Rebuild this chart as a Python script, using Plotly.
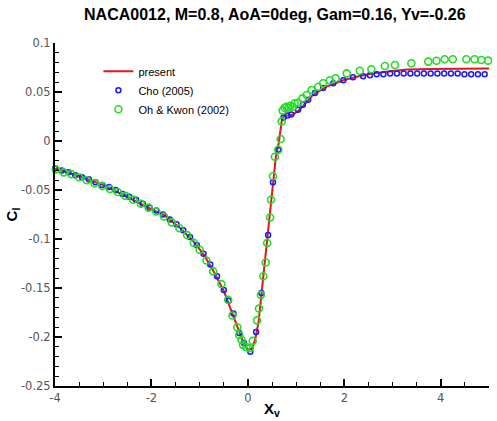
import plotly.graph_objects as go

# ---- data ----
present_x = [-4.0, -3.5, -3.0, -2.5, -2.0, -1.7, -1.4, -1.1, -0.9, -0.7, -0.5, -0.35, -0.2, -0.1,
             0.0, 0.08, 0.15, 0.22, 0.28, 0.34, 0.40, 0.46, 0.52, 0.58, 0.64, 0.70, 0.75, 0.85,
             0.94, 1.05, 1.15, 1.35, 1.63, 1.98, 2.3, 2.6, 3.0, 3.3, 3.8, 4.4, 5.0]
present_y = [-0.028, -0.036, -0.045, -0.057, -0.069, -0.077, -0.089, -0.104, -0.117, -0.134,
             -0.153, -0.173, -0.193, -0.205, -0.213, -0.212, -0.203, -0.185, -0.157, -0.128,
             -0.103, -0.077, -0.042, -0.016, -0.002, 0.020, 0.026, 0.026, 0.027, 0.031, 0.036,
             0.047, 0.0555, 0.062, 0.066, 0.069, 0.0715, 0.073, 0.0735, 0.074, 0.074]

cho_x = [-4.0, -3.86, -3.72, -3.58, -3.44, -3.30, -3.16, -3.02, -2.88, -2.74, -2.60, -2.46,
         -2.32, -2.18, -2.04, -1.90, -1.76, -1.62, -1.48, -1.34, -1.20, -1.06, -0.92, -0.78,
         -0.64, -0.50, -0.40, -0.30, -0.18, -0.08, 0.05, 0.17, 0.28, 0.42, 0.52, 0.63, 0.74,
         0.82, 0.90, 1.04, 1.14, 1.25, 1.39, 1.56, 1.77, 1.98, 2.18, 2.39, 2.53, 2.67, 2.81,
         2.95, 3.09, 3.23, 3.37, 3.51, 3.65, 3.79, 3.93, 4.07, 4.21, 4.35, 4.49, 4.63, 4.77, 4.91]
cho_y = [-0.028, -0.030, -0.032, -0.035, -0.037, -0.039, -0.042, -0.045, -0.047, -0.050,
         -0.054, -0.057, -0.060, -0.064, -0.068, -0.071, -0.075, -0.080, -0.085, -0.091,
         -0.098, -0.106, -0.115, -0.126, -0.138, -0.152, -0.163, -0.176, -0.196, -0.206,
         -0.215, -0.195, -0.155, -0.096, -0.042, -0.009, 0.024, 0.026, 0.027, 0.032, 0.037,
         0.042, 0.049, 0.054, 0.059, 0.062, 0.065, 0.066, 0.067, 0.068, 0.068, 0.069, 0.069,
         0.069, 0.069, 0.069, 0.069, 0.069, 0.069, 0.069, 0.069, 0.069, 0.068, 0.068, 0.068, 0.068]

oh_x = [-3.98, -3.82, -3.66, -3.50, -3.34, -3.18, -3.02, -2.86, -2.70, -2.54, -2.38, -2.22,
        -2.06, -1.90, -1.74, -1.58, -1.42, -1.26, -1.12, -1.00, -0.86, -0.72, -0.55, -0.41,
        -0.32, -0.22, -0.18, -0.13, -0.10, -0.03, 0.04, 0.10, 0.19, 0.23, 0.27, 0.32, 0.37,
        0.40, 0.46, 0.48, 0.52, 0.56, 0.63, 0.68, 0.70, 0.72, 0.76, 0.80, 0.84, 0.88, 0.93,
        0.97, 1.04, 1.13, 1.22, 1.32, 1.46, 1.56, 1.70, 1.82, 2.05, 2.32, 2.56, 2.84, 3.05,
        3.39, 3.74, 3.91, 4.08, 4.25, 4.53, 4.70, 4.84, 4.98]
oh_y = [-0.029, -0.032, -0.034, -0.037, -0.040, -0.043, -0.046, -0.049, -0.052, -0.056,
        -0.060, -0.064, -0.068, -0.072, -0.077, -0.083, -0.089, -0.096, -0.104, -0.111,
        -0.122, -0.133, -0.146, -0.162, -0.178, -0.190, -0.198, -0.203, -0.208, -0.2105,
        -0.2115, -0.204, -0.183, -0.171, -0.157, -0.138, -0.124, -0.104, -0.078, -0.060,
        -0.036, -0.016, -0.009, 0.002, 0.020, 0.031, 0.034, 0.035, 0.034, 0.036, 0.035,
        0.0385, 0.039, 0.0435, 0.047, 0.052, 0.0554, 0.059, 0.062, 0.064, 0.069, 0.0717,
        0.0732, 0.0765, 0.0776, 0.0793, 0.081, 0.0819, 0.0834, 0.0834, 0.0834, 0.0834,
        0.0827, 0.082]

x_tickvals = [-4, -2, 0, 2, 4]
x_ticktext = ["-4", "-2", "0", "2", "4"]
y_tickvals = [0.1, 0.05, 0, -0.05, -0.1, -0.15, -0.2, -0.25]
y_ticktext = ["0.1", "0.05", "0", "-0.05", "-0.1", "-0.15", "-0.2", "-0.25"]

FONT = "Liberation Sans, Arial, sans-serif"
TICKFONT = "DejaVu Sans, sans-serif"

fig = go.Figure()
fig.add_trace(go.Scatter(x=present_x, y=present_y, mode="lines", name="present",
                         line=dict(color="#e8141c", width=2)))
fig.add_trace(go.Scatter(x=cho_x, y=cho_y, mode="markers", name="Cho (2005)",
                         marker=dict(symbol="circle-open", size=5, color="#1a1aff",
                                     line=dict(width=1.5, color="#1a1aff")),
                         cliponaxis=False))
fig.add_trace(go.Scatter(x=oh_x, y=oh_y, mode="markers", name="Oh & Kwon (2002)",
                         marker=dict(symbol="circle-open", size=7, color="#22dd22",
                                     line=dict(width=1.6, color="#22dd22")),
                         cliponaxis=False))

axis_common = dict(showgrid=False, zeroline=False, showline=True, linecolor="black",
                   linewidth=2, ticks="inside", tickcolor="black", tickwidth=1.5,
                   ticklen=7, mirror=False, automargin=False,
                   tickfont=dict(family=TICKFONT, size=11.5, color="#555555"))

fig.update_xaxes(range=[-4, 5], tickmode="array", tickvals=x_tickvals, ticktext=x_ticktext,
                 minor=dict(tick0=-4, dtick=0.5, ticks="inside", ticklen=4,
                            tickcolor="black", tickwidth=1),
                 title=dict(text="<b>X<sub>v</sub></b>", standoff=0,
                            font=dict(family=FONT, size=15, color="black")),
                 **axis_common)
fig.update_yaxes(range=[-0.25, 0.1], tickmode="array", tickvals=y_tickvals, ticktext=y_ticktext,
                 minor=dict(tick0=0, dtick=0.01, ticks="inside", ticklen=4,
                            tickcolor="black", tickwidth=1),
                 title=dict(text="<b>C<sub>l</sub></b>", standoff=0,
                            font=dict(family=FONT, size=15, color="black")),
                 **axis_common)

fig.update_layout(
    width=497, height=421,
    margin=dict(l=55, r=8, t=43, b=35),
    paper_bgcolor="white", plot_bgcolor="white",
    title=dict(text="<b>NACA0012, M=0.8, AoA=0deg, Gam=0.16, Yv=-0.26</b>",
               x=0.553, xanchor="center", y=0.978, yanchor="top",
               font=dict(family=FONT, size=16, color="black")),
    legend=dict(x=0.1, y=0.96, xanchor="left", yanchor="top",
                bgcolor="rgba(0,0,0,0)", font=dict(family=FONT, size=11, color="black"),
                itemwidth=30),
    showlegend=True,
)

fig.write_html("out.html")
